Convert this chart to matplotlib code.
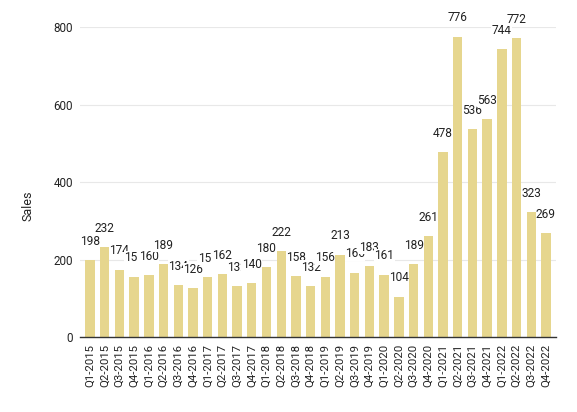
import matplotlib
matplotlib.use('Agg')
import matplotlib.pyplot as plt
import numpy as np

plt.rcParams['font.family'] = ['Roboto', 'DejaVu Sans']

quarters = ['Q1-2015', 'Q2-2015', 'Q3-2015', 'Q4-2015',
            'Q1-2016', 'Q2-2016', 'Q3-2016', 'Q4-2016',
            'Q1-2017', 'Q2-2017', 'Q3-2017', 'Q4-2017',
            'Q1-2018', 'Q2-2018', 'Q3-2018', 'Q4-2018',
            'Q1-2019', 'Q2-2019', 'Q3-2019', 'Q4-2019',
            'Q1-2020', 'Q2-2020', 'Q3-2020', 'Q4-2020',
            'Q1-2021', 'Q2-2021', 'Q3-2021', 'Q4-2021',
            'Q1-2022', 'Q2-2022', 'Q3-2022', 'Q4-2022']
sales = [198, 232, 174, 156,
         160, 189, 134, 126,
         155, 162, 132, 140,
         180, 222, 158, 132,
         156, 213, 166, 183,
         161, 104, 189, 261,
         478, 776, 536, 563,
         744, 772, 323, 269]
y_ticks = [0, 200, 400, 600, 800]

bar_color = '#e6d68e'

fig = plt.figure(figsize=(5.77, 4.12), dpi=100)
ax = fig.add_axes([0.1386, 0.182, 0.825, 0.7518])

x = np.arange(len(quarters))
# bars above the labels so the white label boxes never cut into a bar
ax.bar(x, sales, width=0.64, color=bar_color, zorder=5)

# value labels, later ones drawn over earlier ones
for xi, v in zip(x, sales):
    ax.annotate(str(v), (xi, v), xytext=(0, 13.5), textcoords='offset points',
                ha='center', va='center', fontsize=8.6, color='#222222', zorder=4,
                bbox=dict(boxstyle='square,pad=0.04', fc='white', ec='none'))

ax.set_xlim(-0.68, len(quarters) - 0.32)
ax.set_ylim(0, 800)
ax.set_yticks(y_ticks)
ax.set_xticks(x)
ax.set_xticklabels(quarters, rotation=90, fontsize=8.2, color='#222222')
ax.tick_params(axis='both', length=0)
ax.tick_params(axis='y', labelsize=8.4, labelcolor='#222222', pad=5)
ax.tick_params(axis='x', pad=5)

ax.grid(axis='y', color='#e8e8e8', linewidth=0.8, zorder=0)
for s in ['left', 'right', 'top']:
    ax.spines[s].set_visible(False)
ax.spines['bottom'].set_color('#333333')
ax.spines['bottom'].set_linewidth(1.0)
ax.spines['bottom'].set_zorder(6)

ax.set_ylabel('Sales', fontsize=9, color='#222222', va='center')
ax.yaxis.set_label_coords(-0.109, 0.4226)

fig.savefig('out.png', dpi=100)
